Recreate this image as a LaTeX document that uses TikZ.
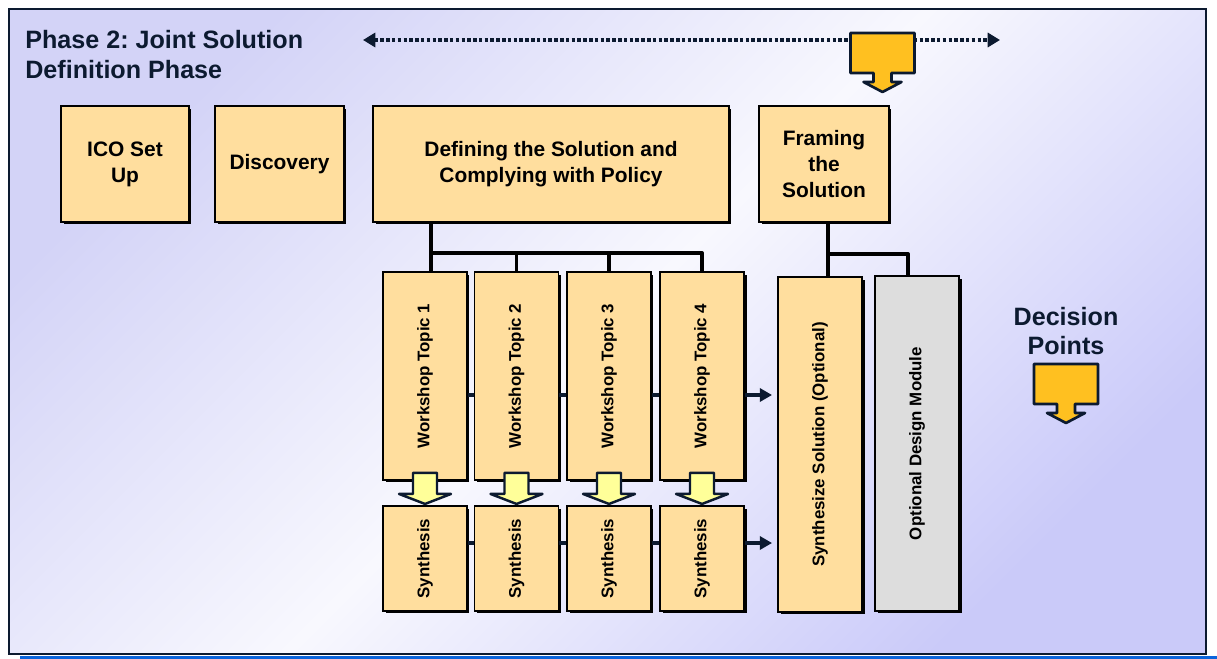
\documentclass[tikz,border=0pt]{standalone}
\usepackage{fontspec}
\setmainfont{Liberation Sans}
\usepackage{graphicx}
\usetikzlibrary{%
  arrows.meta,%
  shadows,%
  positioning,%
  calc%
}
\frenchspacing

\definecolor{navy}{HTML}{0C1A30}
\definecolor{peach}{HTML}{FFDE9E}
\definecolor{lightgray}{HTML}{DDDDDD}
\definecolor{gold}{HTML}{FFC020}
\definecolor{paleyellow}{HTML}{FFFF99}
\definecolor{lavtop}{HTML}{D3D3F7}
\definecolor{lavmid}{HTML}{F8F8FE}
\definecolor{lavbot}{HTML}{CACAF9}
\definecolor{rule}{HTML}{0A64DC}

\begin{document}
\begin{tikzpicture}
[x=0.02cm, y=-0.02cm, >=Triangle,
phasebox/.style={rectangle, draw=black, line width=1.1pt, fill=peach, inner sep=0pt,
  align=center, font=\fontsize{11.9}{14.8}\selectfont\bfseries,
  drop shadow={shadow xshift=0.05cm, shadow yshift=-0.05cm, fill=black, opacity=1}},
topicbox/.style={phasebox, minimum width=1.68cm, font=\fontsize{9.6}{11}\selectfont\bfseries},
title/.style={inner sep=0pt, align=left, text=navy, font=\fontsize{14.3}{17}\selectfont\bfseries},
tree/.style={draw=black, line width=2.2pt, line join=round},
link/.style={draw=navy, line width=2.1pt},
dotline/.style={draw=navy, line width=2.3pt, dash pattern=on 2pt off 1.3pt,
  {Triangle[length=7pt,width=8pt]}-{Triangle[length=7pt,width=8pt]}},
blockdown/.pic={
  \draw[draw=navy, line width=1.4pt, fill=paleyellow, line join=round]
    (-12,0) -- (12,0) -- (12,21) -- (26,21) -- (0,31) -- (-26,21) -- (-12,21) -- cycle;},
decision/.pic={
  \draw[draw=navy, line width=1.5pt, fill=gold, line join=round]
    (-32,0) -- (32,0) -- (32,40) -- (9,40) -- (9,49) -- (19,49) -- (0,59)
    -- (-19,49) -- (-9,49) -- (-9,40) -- (-32,40) -- cycle;}]

\useasboundingbox (0,0) rectangle (1217,659);

% frame
\shade[top color=lavtop, bottom color=lavbot, middle color=lavmid, shading angle=45]
  (9,9) rectangle (1206,654);
\draw[navy, line width=1.1pt] (9,9) rectangle (1206,654);
\fill[rule] (20,656) rectangle (1217,659);

\node[title, anchor=north west] (phase) at (25,30) {Phase 2: Joint Solution\\Definition Phase};

\coordinate (tl) at (363,40);
\coordinate (tr) at (1000,40);
\draw[dotline] (tl) -- (tr);
\pic at (882.5,33) {decision};

% top row
\node[phasebox, minimum width=2.56cm, minimum height=2.32cm] (ico) at (125,164) {ICO Set\\Up};
\node[phasebox, minimum width=2.58cm, minimum height=2.32cm] (disc) at (279.5,164) {Discovery};
\node[phasebox, minimum width=7.12cm, minimum height=2.32cm] (defn) at (551,164) {Defining the Solution and\\Complying with Policy};
\node[phasebox, minimum width=2.6cm, minimum height=2.32cm] (fram) at (824,164) {Framing\\the\\Solution};

% workshops
\node[topicbox, minimum height=4.16cm] (wt1) at (425,376) {\rotatebox{90}{Workshop Topic 1}};
\node[topicbox, minimum height=4.16cm] (wt2) at (516.5,376) {\rotatebox{90}{Workshop Topic 2}};
\node[topicbox, minimum height=4.16cm] (wt3) at (609,376) {\rotatebox{90}{Workshop Topic 3}};
\node[topicbox, minimum height=4.16cm] (wt4) at (702,376) {\rotatebox{90}{Workshop Topic 4}};

\node[topicbox, minimum height=2.1cm] (sy1) at (425,558.5) {\rotatebox{90}{Synthesis}};
\node[topicbox, minimum height=2.1cm] (sy2) at (516.5,558.5) {\rotatebox{90}{Synthesis}};
\node[topicbox, minimum height=2.1cm] (sy3) at (609,558.5) {\rotatebox{90}{Synthesis}};
\node[topicbox, minimum height=2.1cm] (sy4) at (702,558.5) {\rotatebox{90}{Synthesis}};

\node[topicbox, minimum height=6.7cm] (synz) at (820,444.5) {\rotatebox{90}{Synthesize Solution (Optional)}};
\node[topicbox, minimum height=6.7cm, fill=lightgray] (opt) at (917,443.5) {\rotatebox{90}{Optional Design Module}};

% tree under the two top boxes
\coordinate (dj) at (431,253);
\coordinate (fj) at (828,254);
\draw[tree] (defn.south -| dj) -- (wt1.north -| dj);
\draw[tree] (dj) -| (wt4.north);
\draw[tree] (dj -| wt2.north) -- (wt2.north);
\draw[tree] (dj -| wt3.north) -- (wt3.north);
\draw[tree] (fram.south -| fj) -- (synz.north -| fj);
\draw[tree] (fj) -| ([xshift=-0.18cm]opt.north);

% links along the rows
\coordinate (wrow) at (0,395);
\coordinate (srow) at (0,543);
\draw[link] (wt1.east |- wrow) -- (wt2.west |- wrow)
  (wt2.east |- wrow) -- (wt3.west |- wrow)
  (wt3.east |- wrow) -- (wt4.west |- wrow);
\draw[link, -{Triangle[length=7pt,width=7.5pt]}, shorten >=0.1cm] (wt4.east |- wrow) -- (synz.west |- wrow);
\draw[link] (sy1.east |- srow) -- (sy2.west |- srow)
  (sy2.east |- srow) -- (sy3.west |- srow)
  (sy3.east |- srow) -- (sy4.west |- srow);
\draw[link, -{Triangle[length=7pt,width=7.5pt]}, shorten >=0.1cm] (sy4.east |- srow) -- (synz.west |- srow);

\pic at ([yshift=0.16cm]wt1.south) {blockdown};
\pic at ([yshift=0.16cm]wt2.south) {blockdown};
\pic at ([yshift=0.16cm]wt3.south) {blockdown};
\pic at ([yshift=0.16cm]wt4.south) {blockdown};

\node[title, align=center] (dpts) at (1066,331) {Decision\\Points};
\pic at (1066,364) {decision};

\end{tikzpicture}
\end{document}
